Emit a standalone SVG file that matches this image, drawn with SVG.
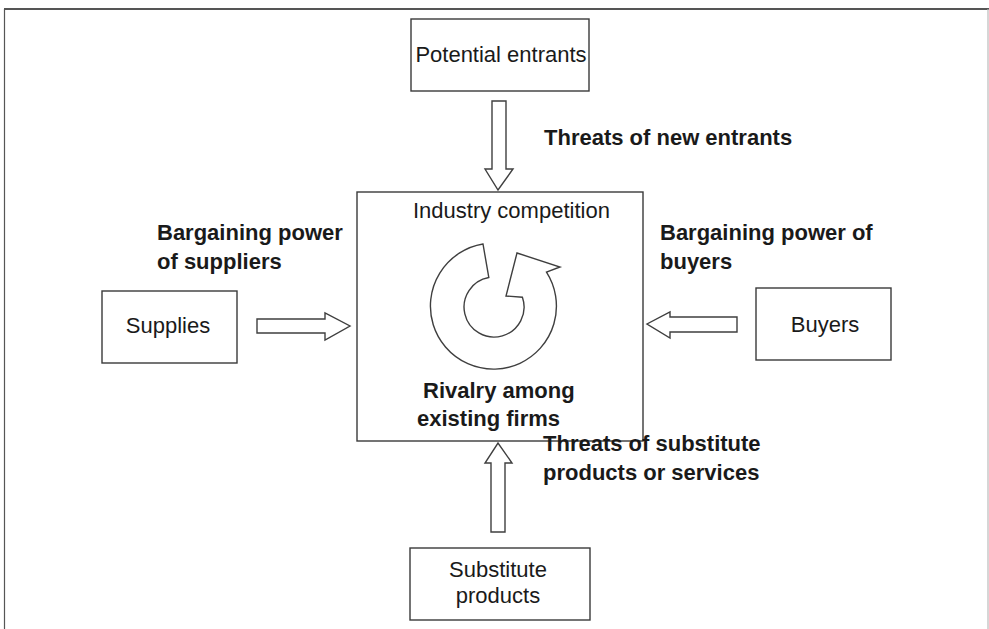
<svg xmlns="http://www.w3.org/2000/svg" width="989" height="629" viewBox="0 0 989 629">
  <style>
    .box { fill: #ffffff; stroke: #3a3a3a; stroke-width: 1.4; }
    .arrow { fill: #ffffff; stroke: #3f3f3f; stroke-width: 1.4; stroke-linejoin: miter; }
    .lbl { font-family: "Liberation Sans", Arial, sans-serif; font-size: 22px; fill: #1a1a1a; }
    .bold { font-family: "Liberation Sans", Arial, sans-serif; font-size: 22px; font-weight: bold; fill: #1a1a1a; }
    .mid { text-anchor: middle; }
  </style>

  <rect width="989" height="629" fill="#ffffff"/>

  <!-- page frame -->
  <g id="frame" fill="none">
    <line x1="4" y1="9" x2="989" y2="9" stroke="#555" stroke-width="1.8"/>
    <line x1="4.5" y1="9" x2="4.5" y2="629" stroke="#555" stroke-width="1.2"/>
    <line x1="988" y1="9" x2="988" y2="629" stroke="#bbb" stroke-width="1.2"/>
  </g>

  <!-- connectors: hollow block arrows -->
  <g id="connectors">
    <!-- potential entrants -> industry -->
    <polygon class="arrow" points="492,101 506,101 506,169 513,169 498,190 485,169 492,169"/>
    <!-- substitutes -> industry -->
    <polygon class="arrow" points="491,532 505,532 505,463 512,463 498,443 485,463 491,463"/>
    <!-- supplies -> industry -->
    <polygon class="arrow" points="257,319 325,319 325,313 350,326 325,340 325,333 257,333"/>
    <!-- buyers -> industry -->
    <polygon class="arrow" points="737,317 670,317 670,312 647,324 670,338 670,332 737,332"/>
  </g>

  <g id="potential-entrants">
    <rect class="box" x="411" y="19" width="178" height="72"/>
    <text class="lbl mid" x="501" y="62">Potential entrants</text>
  </g>

  <g id="supplies">
    <rect class="box" x="102" y="291" width="135" height="72"/>
    <text class="lbl mid" x="168" y="333">Supplies</text>
  </g>

  <g id="buyers">
    <rect class="box" x="756" y="288" width="135" height="72"/>
    <text class="lbl mid" x="825" y="332">Buyers</text>
  </g>

  <g id="substitute-products">
    <rect class="box" x="410" y="548" width="180" height="72"/>
    <text class="lbl mid" x="498" y="577">Substitute</text>
    <text class="lbl mid" x="498" y="603">products</text>
  </g>

  <g id="industry-competition">
    <rect class="box" x="357" y="192" width="286" height="249"/>
    <text class="lbl" x="413" y="218">Industry competition</text>
    <!-- circular rivalry arrow -->
    <path class="arrow" d="M483,244 A63,63 0 1 0 546.5,272.2 L560,267 L517,253 L506,296 L522.4,297.2 A30,30 0 1 1 488.8,277.5 Z"/>
    <text class="bold" x="423" y="398">Rivalry among</text>
    <text class="bold" x="417" y="426">existing firms</text>
  </g>

  <!-- force labels -->
  <g id="labels">
    <text class="bold" x="544" y="145">Threats of new entrants</text>
    <text class="bold" x="157" y="240">Bargaining power</text>
    <text class="bold" x="157" y="269">of suppliers</text>
    <text class="bold" x="660" y="240">Bargaining power of</text>
    <text class="bold" x="660" y="269">buyers</text>
    <text class="bold" x="543" y="451">Threats of substitute</text>
    <text class="bold" x="543" y="480">products or services</text>
  </g>
</svg>
